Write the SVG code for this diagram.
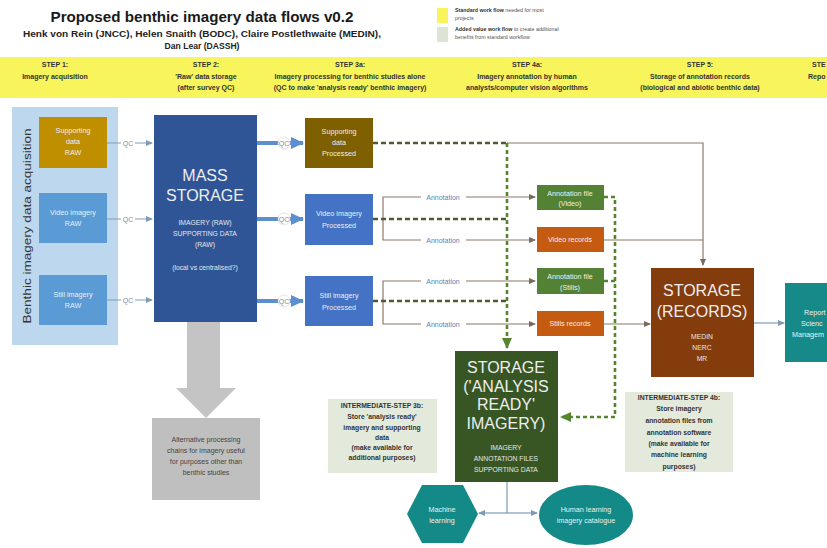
<svg xmlns="http://www.w3.org/2000/svg" width="827" height="548" viewBox="0 0 827 548">
<style>
  text { font-family: "Liberation Sans", Arial, sans-serif; }
  .title { font-size: 15px; font-weight: bold; fill: #1a1a1a; }
  .sub { font-size: 8.6px; font-weight: bold; fill: #222; }
  .step { font-size: 7px; font-weight: bold; fill: #333; text-anchor: middle; }
  .leg { font-size: 5.3px; fill: #555; }
  .lt { font-size: 7.2px; fill: #eeeeee; text-anchor: middle; }
  .big { font-size: 16px; fill: #eeeeee; text-anchor: middle; }
  .sm { font-size: 6.8px; fill: #e6e6e6; text-anchor: middle; }
  .note { font-size: 6.8px; font-weight: bold; fill: #333; text-anchor: middle; }
  .grey { font-size: 7px; fill: #444; text-anchor: middle; }
  .qc { font-size: 7px; fill: #7a8ea8; text-anchor: middle; }
  .ann { font-size: 7px; fill: #5d7fb5; text-anchor: middle; }
  .thin { fill: none; stroke: #7f9bb8; stroke-width: 1; }
  .brn { fill: none; stroke: #8a7a6a; stroke-width: 1.2; }
  .dash { fill: none; stroke: #4f5b2f; stroke-width: 2.6; stroke-dasharray: 5 3; }
  .gdash { fill: none; stroke: #55852f; stroke-width: 2.6; stroke-dasharray: 4 3; }
  .thick { fill: none; stroke: #5b8fd0; stroke-width: 4; }
  .blue { fill: none; stroke: #7f9bb8; stroke-width: 1.2; }
</style>
<defs>
  <marker id="aThin" markerWidth="8" markerHeight="8" refX="6" refY="4" orient="auto" markerUnits="userSpaceOnUse">
    <path d="M0,1 L7,4 L0,7 Z" fill="#7f9bb8"/>
  </marker>
  <marker id="aBrn" markerWidth="8" markerHeight="8" refX="6" refY="4" orient="auto" markerUnits="userSpaceOnUse">
    <path d="M0,1 L7,4 L0,7 Z" fill="#7a6a5a"/>
  </marker>
  <marker id="aThick" markerWidth="14" markerHeight="14" refX="12" refY="7" orient="auto" markerUnits="userSpaceOnUse">
    <path d="M0,1 L13,7 L0,13 Z" fill="#5b8fd0"/>
  </marker>
  <marker id="aGrn" markerWidth="12" markerHeight="12" refX="10" refY="6" orient="auto" markerUnits="userSpaceOnUse">
    <path d="M0,1 L11,6 L0,11 Z" fill="#55852f"/>
  </marker>
</defs>
<rect width="827" height="548" fill="#ffffff"/>

<!-- Title -->
<text class="title" x="202" y="22" text-anchor="middle" textLength="303" lengthAdjust="spacingAndGlyphs">Proposed benthic imagery data flows v0.2</text>
<text class="sub" x="202" y="37" text-anchor="middle" textLength="358" lengthAdjust="spacingAndGlyphs">Henk von Rein (JNCC), Helen Snaith (BODC), Claire Postlethwaite (MEDIN),</text>
<text class="sub" x="202" y="49" text-anchor="middle">Dan Lear (DASSH)</text>

<!-- Legend -->
<g id="legend">
  <rect x="437" y="8" width="11" height="15" fill="#f7f45c"/>
  <rect x="437" y="27" width="11" height="15" fill="#dde4d6"/>
  <text class="leg" x="455" y="12"><tspan font-weight="bold" fill="#333">Standard work flow</tspan> needed for most</text>
  <text class="leg" x="455" y="20">projects</text>
  <text class="leg" x="455" y="31"><tspan font-weight="bold" fill="#333">Added value work flow</tspan> to create additional</text>
  <text class="leg" x="455" y="39">benefits from standard workflow</text>
</g>

<!-- Step band -->
<g id="steps">
  <rect x="0" y="57" width="827" height="41" fill="#f7f45c"/>
  <text class="step" x="55" y="67">STEP 1:</text>
  <text class="step" x="55" y="79">Imagery acquisition</text>
  <text class="step" x="206" y="67">STEP 2:</text>
  <text class="step" x="206" y="79">'Raw' data storage</text>
  <text class="step" x="206" y="90">(after survey QC)</text>
  <text class="step" x="350" y="67">STEP 3a:</text>
  <text class="step" x="350" y="79">Imagery processing for benthic studies alone</text>
  <text class="step" x="350" y="90">(QC to make 'analysis ready' benthic imagery)</text>
  <text class="step" x="527" y="67">STEP 4a:</text>
  <text class="step" x="527" y="79">Imagery annotation by human</text>
  <text class="step" x="527" y="90">analysts/computer vision algorithms</text>
  <text class="step" x="700" y="67">STEP 5:</text>
  <text class="step" x="700" y="79">Storage of annotation records</text>
  <text class="step" x="700" y="90">(biological and abiotic benthic data)</text>
  <text class="step" x="812" y="67" style="text-anchor:start">STE</text>
  <text class="step" x="808" y="79" style="text-anchor:start">Repo</text>
</g>

<!-- Acquisition panel -->
<g id="acq-panel">
  <rect x="12" y="107" width="106" height="238" fill="#bdd7ee"/>
  <text x="0" y="0" transform="translate(31,226) rotate(-90)" text-anchor="middle" font-size="10.5" fill="#333" textLength="195" lengthAdjust="spacingAndGlyphs">Benthic imagery data acquisition</text>
</g>

<!-- Connectors -->
<g id="connectors">
  <!-- QC thin -->
  <line class="thin" x1="107" y1="143" x2="152" y2="143" marker-end="url(#aThin)"/>
  <line class="thin" x1="107" y1="219" x2="152" y2="219" marker-end="url(#aThin)"/>
  <line class="thin" x1="107" y1="300" x2="152" y2="300" marker-end="url(#aThin)"/>
  <rect x="121" y="138" width="14" height="9" fill="#ffffff"/>
  <rect x="121" y="214" width="14" height="9" fill="#ffffff"/>
  <rect x="121" y="295" width="14" height="9" fill="#ffffff"/>
  <text class="qc" x="128" y="146">QC</text>
  <text class="qc" x="128" y="222">QC</text>
  <text class="qc" x="128" y="303">QC</text>
  <!-- QC thick -->
  <line class="thick" x1="257" y1="143" x2="303" y2="143" marker-end="url(#aThick)"/>
  <line class="thick" x1="257" y1="219" x2="303" y2="219" marker-end="url(#aThick)"/>
  <line class="thick" x1="257" y1="301" x2="303" y2="301" marker-end="url(#aThick)"/>
  <circle cx="284" cy="143" r="6" fill="#ffffff" stroke="#e8c8d8" stroke-width="0.6"/>
  <circle cx="284" cy="219" r="6" fill="#ffffff" stroke="#e8c8d8" stroke-width="0.6"/>
  <circle cx="284" cy="301" r="6" fill="#ffffff" stroke="#e8c8d8" stroke-width="0.6"/>
  <text class="qc" x="284" y="146">QC</text>
  <text class="qc" x="284" y="222">QC</text>
  <text class="qc" x="284" y="304">QC</text>

  <!-- supporting data processed to records -->
  <polyline class="brn" points="507,143 703,143 703,265" marker-end="url(#aBrn)"/>
  <line class="brn" x1="604" y1="240" x2="703" y2="240"/>
  <line class="brn" x1="604" y1="324" x2="650" y2="324" marker-end="url(#aBrn)"/>

  <!-- annotation brackets -->
  <polyline class="brn" points="535,197 383,197 383,240 535,240"/>
  <polyline class="brn" points="535,281 383,281 383,324 535,324"/>
  <path d="M529,194 L536,197 L529,200 Z M529,237 L536,240 L529,243 Z M529,278 L536,281 L529,284 Z M529,321 L536,324 L529,327 Z" fill="#7a6a5a"/>
  <rect x="421" y="193" width="45" height="8" fill="#ffffff"/>
  <rect x="421" y="236" width="45" height="8" fill="#ffffff"/>
  <rect x="421" y="277" width="45" height="8" fill="#ffffff"/>
  <rect x="421" y="320" width="45" height="8" fill="#ffffff"/>
  <text class="ann" x="443" y="200">Annotation</text>
  <text class="ann" x="443" y="243">Annotation</text>
  <text class="ann" x="443" y="284">Annotation</text>
  <text class="ann" x="443" y="327">Annotation</text>

  <!-- dashed to analysis-ready storage -->
  <line class="dash" x1="373" y1="143" x2="507" y2="143"/>
  <line class="dash" x1="373" y1="219" x2="507" y2="219"/>
  <line class="dash" x1="373" y1="301" x2="507" y2="301"/>
  <line class="gdash" x1="507" y1="143" x2="507" y2="348" marker-end="url(#aGrn)"/>
  <polyline class="gdash" points="604,197 615,197 615,417 561,417" marker-end="url(#aGrn)"/>
  <line class="gdash" x1="604" y1="281" x2="615" y2="281"/>

  <!-- records to reports -->
  <line class="blue" x1="754" y1="323" x2="784" y2="323" marker-end="url(#aThin)"/>

  <!-- storage to ML -->
  <line class="blue" x1="507" y1="482" x2="507" y2="513"/>
  <line class="blue" x1="507" y1="513" x2="479" y2="513" marker-end="url(#aThin)"/>
  <line class="blue" x1="507" y1="513" x2="537" y2="513" marker-end="url(#aThin)"/>
</g>

<!-- Nodes -->
<g id="supporting-raw">
  <rect x="39" y="117" width="68" height="51" fill="#bf8f00"/>
  <text class="lt" x="73" y="133">Supporting</text>
  <text class="lt" x="73" y="144">data</text>
  <text class="lt" x="73" y="155">RAW</text>
</g>
<g id="video-raw">
  <rect x="39" y="193" width="68" height="50" fill="#5b9bd5"/>
  <text class="lt" x="73" y="215">Video imagery</text>
  <text class="lt" x="73" y="226">RAW</text>
</g>
<g id="still-raw">
  <rect x="39" y="275" width="68" height="50" fill="#5b9bd5"/>
  <text class="lt" x="73" y="297">Still imagery</text>
  <text class="lt" x="73" y="308">RAW</text>
</g>

<g id="mass-storage">
  <rect x="154" y="115" width="103" height="207" fill="#2f5597"/>
  <text class="big" x="205" y="181" font-size="17">MASS</text>
  <text class="big" x="205" y="201" font-size="17">STORAGE</text>
  <text class="sm" x="205" y="225">IMAGERY (RAW)</text>
  <text class="sm" x="205" y="236">SUPPORTING DATA</text>
  <text class="sm" x="205" y="247">(RAW)</text>
  <text class="sm" x="205" y="270">(local vs centralised?)</text>
</g>

<g id="alt-processing">
  <path d="M187,322 H220 V388 H236 L206,418 L176,388 H187 Z" fill="#c4c4c4"/>
  <rect x="152" y="418" width="108" height="82" fill="#bfbfbf"/>
  <text class="grey" x="206" y="442">Alternative processing</text>
  <text class="grey" x="206" y="453">chains for imagery useful</text>
  <text class="grey" x="206" y="464">for purposes other than</text>
  <text class="grey" x="206" y="475">benthic studies</text>
</g>

<g id="supporting-processed">
  <rect x="305" y="118" width="68" height="50" fill="#7f6000"/>
  <text class="lt" x="339" y="134">Supporting</text>
  <text class="lt" x="339" y="145">data</text>
  <text class="lt" x="339" y="156">Processed</text>
</g>
<g id="video-processed">
  <rect x="305" y="194" width="68" height="51" fill="#4472c4"/>
  <text class="lt" x="339" y="216">Video imagery</text>
  <text class="lt" x="339" y="228">Processed</text>
</g>
<g id="still-processed">
  <rect x="305" y="276" width="68" height="50" fill="#4472c4"/>
  <text class="lt" x="339" y="298">Still imagery</text>
  <text class="lt" x="339" y="310">Processed</text>
</g>

<g id="annot-video">
  <rect x="537" y="185" width="67" height="25" fill="#548235"/>
  <text class="lt" x="570" y="196">Annotation file</text>
  <text class="lt" x="570" y="206">(Video)</text>
</g>
<g id="video-records">
  <rect x="537" y="227" width="67" height="25" fill="#c55a11"/>
  <text class="lt" x="570" y="242">Video records</text>
</g>
<g id="annot-stills">
  <rect x="537" y="268" width="67" height="26" fill="#548235"/>
  <text class="lt" x="570" y="279">Annotation file</text>
  <text class="lt" x="570" y="290">(Stills)</text>
</g>
<g id="stills-records">
  <rect x="537" y="311" width="67" height="25" fill="#c55a11"/>
  <text class="lt" x="570" y="326">Stills records</text>
</g>

<g id="storage-records">
  <rect x="651" y="268" width="103" height="109" fill="#843c0c"/>
  <text class="big" x="702" y="296" font-size="16">STORAGE</text>
  <text class="big" x="702" y="317" font-size="16">(RECORDS)</text>
  <text class="sm" x="702" y="339">MEDIN</text>
  <text class="sm" x="702" y="350">NERC</text>
  <text class="sm" x="702" y="361">MR</text>
</g>

<g id="reports">
  <rect x="785" y="283" width="50" height="79" fill="#168a88"/>
  <text class="lt" x="804" y="315" fill="#d8eeee" style="text-anchor:start" font-size="6.8">Report</text>
  <text class="lt" x="801" y="326" fill="#d8eeee" style="text-anchor:start" font-size="6.8">Scienc</text>
  <text class="lt" x="792" y="337" fill="#d8eeee" style="text-anchor:start" font-size="6.8">Managem</text>
</g>

<g id="storage-analysis">
  <rect x="455" y="351" width="103" height="131" fill="#375623"/>
  <text class="big" x="506" y="373" font-size="15">STORAGE</text>
  <text class="big" x="506" y="392" font-size="13">('ANALYSIS</text>
  <text class="big" x="506" y="410" font-size="13">READY'</text>
  <text class="big" x="506" y="429" font-size="13">IMAGERY)</text>
  <text class="sm" x="506" y="450">IMAGERY</text>
  <text class="sm" x="506" y="461">ANNOTATION FILES</text>
  <text class="sm" x="506" y="472">SUPPORTING DATA</text>
</g>

<g id="step3b">
  <rect x="328" y="399" width="109" height="74" fill="#e3eadc"/>
  <text class="note" x="382" y="408">INTERMEDIATE-STEP 3b:</text>
  <text class="note" x="382" y="419">Store 'analysis ready'</text>
  <text class="note" x="382" y="430">imagery and supporting</text>
  <text class="note" x="382" y="440">data</text>
  <text class="note" x="382" y="450">(make available for</text>
  <text class="note" x="382" y="460">additional purposes)</text>
</g>

<g id="step4b">
  <rect x="625" y="392" width="108" height="80" fill="#e3eadc"/>
  <text class="note" x="679" y="400">INTERMEDIATE-STEP 4b:</text>
  <text class="note" x="679" y="411">Store imagery</text>
  <text class="note" x="679" y="423">annotation files from</text>
  <text class="note" x="679" y="435">annotation software</text>
  <text class="note" x="679" y="446">(make available for</text>
  <text class="note" x="679" y="457">machine learning</text>
  <text class="note" x="679" y="469">purposes)</text>
</g>

<g id="machine-learning">
  <polygon points="407,514 422,485 463,485 478,514 463,543 422,543" fill="#138a88"/>
  <text class="lt" x="442" y="512">Machine</text>
  <text class="lt" x="442" y="523">learning</text>
</g>

<g id="human-learning">
  <ellipse cx="586" cy="515" rx="47" ry="30" fill="#138a88"/>
  <text class="lt" x="586" y="512">Human learning</text>
  <text class="lt" x="586" y="523">imagery catalogue</text>
</g>
</svg>
